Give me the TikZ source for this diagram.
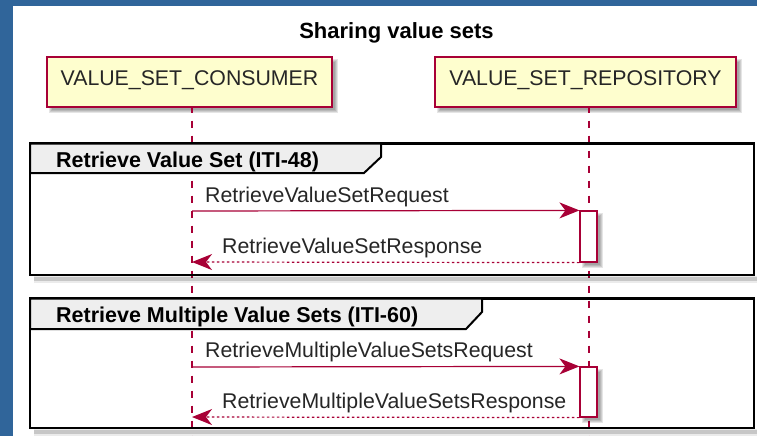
\documentclass[tikz,border=0pt]{standalone}
\usepackage{fontspec}
\setmainfont{Liberation Sans}
\usetikzlibrary{arrows.meta}
\definecolor{pumlred}{HTML}{A80036}
\definecolor{pumlfill}{HTML}{FEFECE}
\definecolor{pumlblue}{HTML}{30659A}
\definecolor{grphead}{HTML}{EEEEEE}
\newcommand\softshadow[4]{%
  \foreach \r in {-1,0,1,2}{%
    \fill[black,opacity=0.1] ({#1+4-\r},{#2+4-\r}) rectangle ({#3+4+\r},{#4+4+\r});}}
\begin{document}
\begin{tikzpicture}[x=1pt,y=-1pt,
  participant/.style={draw=pumlred, line width=1.4pt, fill=pumlfill, inner sep=0pt,
    minimum height=50pt, text height=0.716em, text depth=0pt,
    font=\fontsize{21.3}{25}\selectfont, text=black!85},
  lifeline/.style={draw=pumlred, line width=1.2pt, dash pattern=on 7.5pt off 7.5pt, dash phase=2pt},
  grpline/.style={draw=black, line width=2.7pt},
  grplabel/.style={anchor=base west, inner sep=0pt, font=\bfseries\fontsize{21.5}{25}\selectfont},
  actbar/.style={draw=pumlred, line width=1.2pt, fill=white, inner sep=0pt,
    minimum width=17pt},
  msg/.style={draw=pumlred, line width=1.2pt,
    -{Stealth[length=20pt, width=16pt, inset=6pt, fill=pumlred]}},
  reply/.style={msg, dash pattern=on 2.5pt off 2.5pt},
  msglabel/.style={anchor=base west, inner sep=0pt, font=\fontsize{21.3}{25}\selectfont, text=black!85}
]
\useasboundingbox (0,0) rectangle (757,436);
\fill[pumlblue] (0,0) rectangle (757,436);
\fill[white] (13,6) rectangle (757,436);

% title
\node[anchor=base, inner sep=0pt, font=\bfseries\fontsize{22}{26}\selectfont] (title) at (396.5,38) {Sharing value sets};

% participants
\softshadow{47}{57}{332}{107}
\softshadow{435}{57}{736}{107}
\node[participant, minimum width=285pt] (cons) at (189.5,82) {VALUE\_SET\_CONSUMER};
\node[participant, minimum width=301pt] (repo) at (585.5,82) {VALUE\_SET\_REPOSITORY};

% lifelines
\coordinate (cL) at (192,436);
\coordinate (rL) at (589,436);
\draw[lifeline] (cons.south -| cL) -- (cL);
\draw[lifeline] (repo.south -| rL) -- (rL);

% group frame shadows
\draw[black,opacity=0.15,line width=4pt] (34,279) -- (757,279);
\draw[black,opacity=0.15,line width=4pt] (34,432) -- (757,432);
\draw[black,opacity=0.08,line width=7pt] (34,279.5) -- (757,279.5);
\draw[black,opacity=0.08,line width=7pt] (34,432.5) -- (757,432.5);

% group frames
\draw[grpline] (30,143.5) rectangle (754,275);
\draw[draw=black, line width=2pt, fill=grphead] (30,143.5) -- (381,143.5) -- (381,157) -- (364,173) -- (30,173) -- cycle;
\node[grplabel] (g1) at (56,167) {Retrieve Value Set (ITI-48)};

\draw[grpline] (30,298.5) rectangle (754,428);
\draw[draw=black, line width=2pt, fill=grphead] (30,298.5) -- (482,298.5) -- (482,312) -- (466,329) -- (30,329) -- cycle;
\node[grplabel] (g2) at (56,322) {Retrieve Multiple Value Sets (ITI-60)};

% activations
\softshadow{580}{211}{597}{262}
\softshadow{580}{367}{597}{417}
\node[actbar, minimum height=51pt] (act1) at (588.5,236.5) {};
\node[actbar, minimum height=50pt] (act2) at (588.5,392) {};

% messages
\coordinate (m1) at (192,211);
\coordinate (m2) at (192,262);
\coordinate (m3) at (192,367);
\coordinate (m4) at (192,417);
\draw[msg] (m1) -- (act1.north west);
\draw[reply] (act1.south west) -- (m2);
\draw[msg] (m3) -- (act2.north west);
\draw[reply] (act2.south west) -- (m4);

\node[msglabel] (l1) at (205,202) {RetrieveValueSetRequest};
\node[msglabel] (l2) at (222,253) {RetrieveValueSetResponse};
\node[msglabel] (l3) at (205,357) {RetrieveMultipleValueSetsRequest};
\node[msglabel] (l4) at (222,408) {RetrieveMultipleValueSetsResponse};
\end{tikzpicture}
\end{document}
